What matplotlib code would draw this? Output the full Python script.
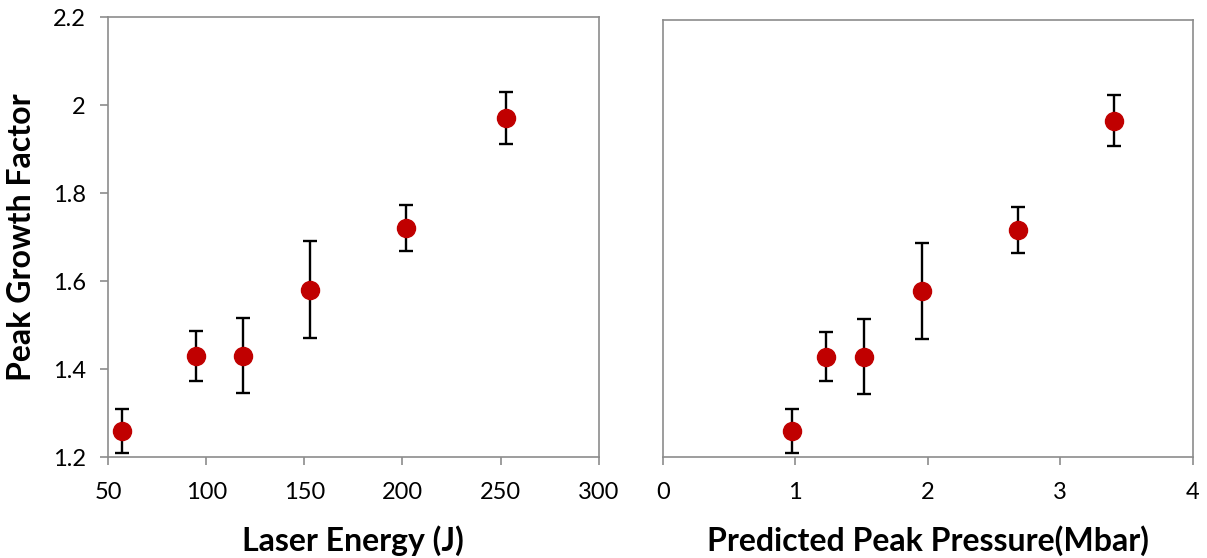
import matplotlib.pyplot as plt

# data
energy = [57, 95, 119, 153, 202, 253]
pressure = [0.98, 1.23, 1.52, 1.96, 2.68, 3.41]
growth = [1.26, 1.43, 1.43, 1.58, 1.72, 1.97]
growth_err = [0.05, 0.057, 0.085, 0.11, 0.052, 0.059]

plt.rcParams['font.family'] = ['Lato', 'DejaVu Sans']

fig = plt.figure(figsize=(12.07, 5.58), dpi=100)
ax1 = fig.add_axes([0.0895, 0.181, 0.4065, 0.7885])
ax2 = fig.add_axes([0.549, 0.181, 0.439, 0.783])

red = '#C00000'
spine_col = '#8c8c8c'

for ax, x in ((ax1, energy), (ax2, pressure)):
    ax.errorbar(x, growth, yerr=growth_err, fmt='o', color=red, ms=13,
                ecolor='black', elinewidth=1.7, capsize=5, capthick=1.7,
                zorder=3)
    ax.set_ylim(1.2, 2.2)
    for s in ax.spines.values():
        s.set_color(spine_col)
        s.set_linewidth(1.2)
    ax.tick_params(axis='both', direction='out', length=6, width=1.2,
                   color=spine_col, labelsize=17)
    ax.tick_params(axis='x', pad=12)
    ax.tick_params(axis='y', pad=10)

ax1.set_xlim(50, 300)
ax1.set_xticks([50, 100, 150, 200, 250, 300])
ax1.set_yticks([1.2, 1.4, 1.6, 1.8, 2.0, 2.2])
ax1.set_yticklabels(['1.2', '1.4', '1.6', '1.8', '2', '2.2'])
ax1.set_xlabel('Laser Energy (J)', fontsize=23, fontweight='bold', labelpad=16)
ax1.set_ylabel('Peak Growth Factor', fontsize=23, fontweight='bold', labelpad=12)

ax2.set_xlim(0, 4)
ax2.set_xticks([0, 1, 2, 3, 4])
ax2.set_yticks([])
ax2.set_xlabel('Predicted Peak Pressure(Mbar)', fontsize=23, fontweight='bold',
               labelpad=16)

fig.savefig('out.png', dpi=100)
